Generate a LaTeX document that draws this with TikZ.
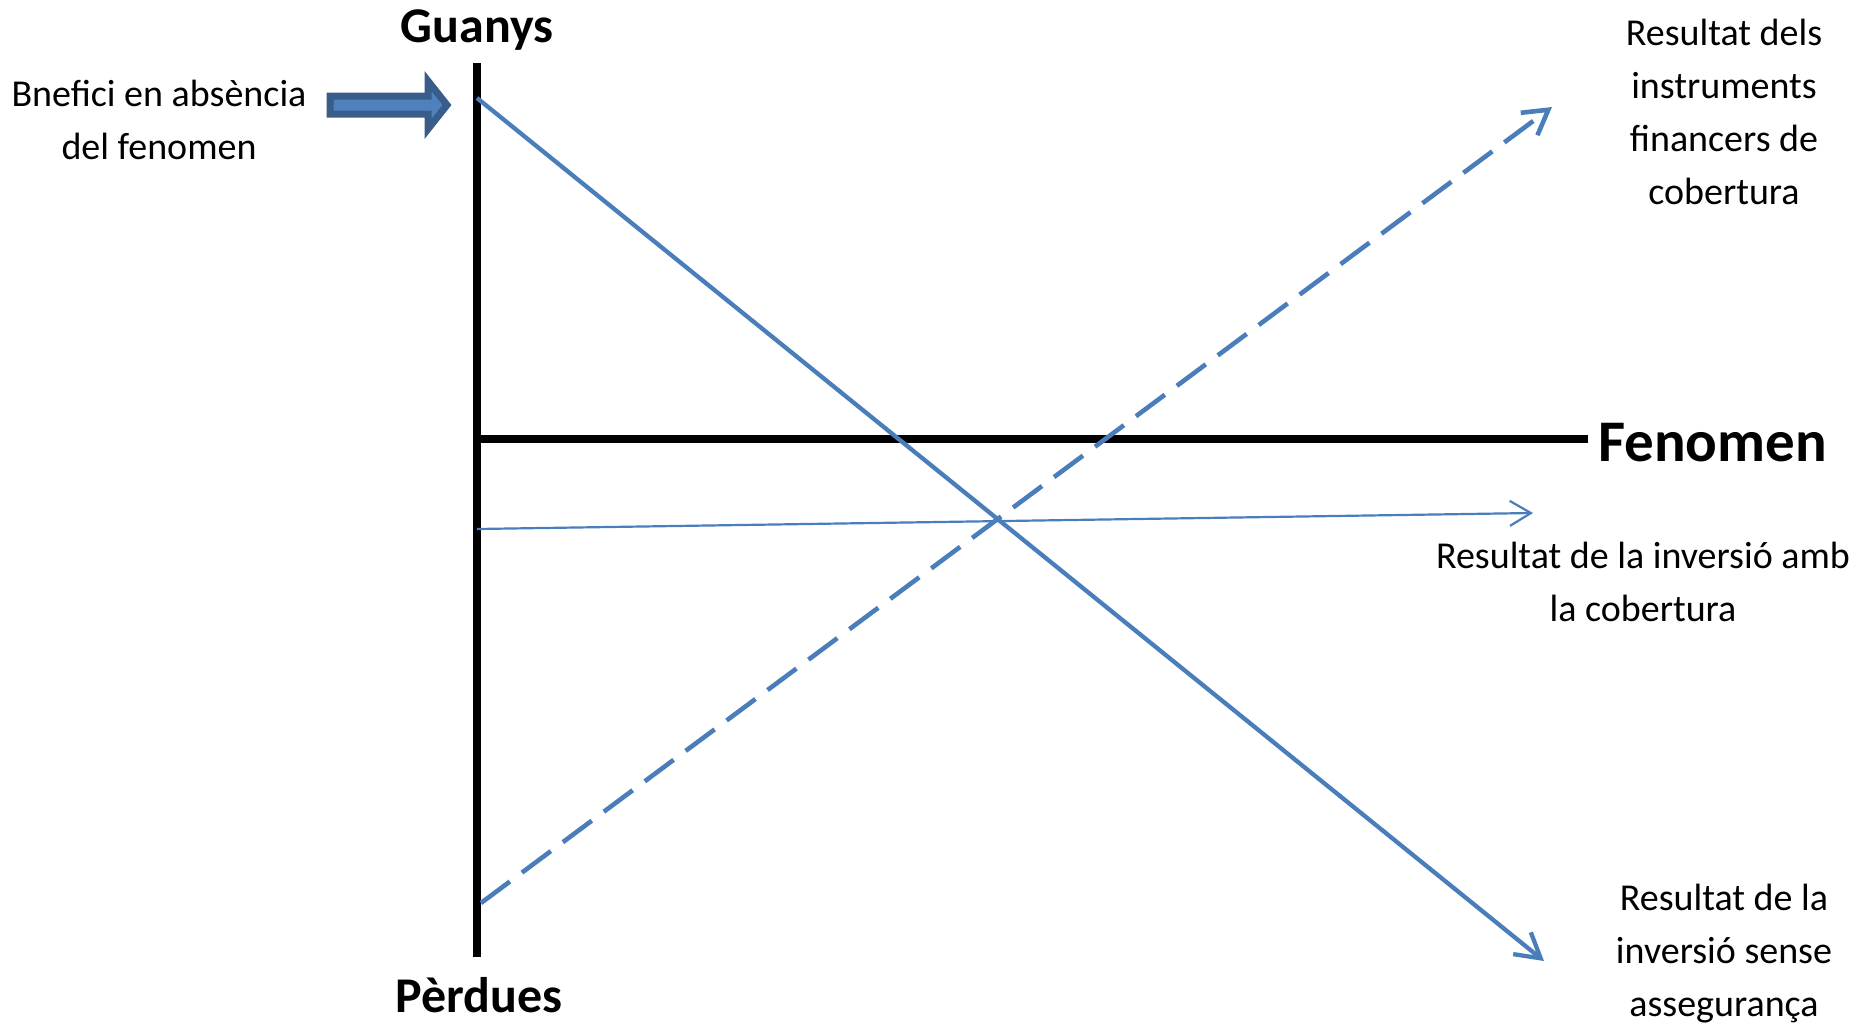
\documentclass[tikz,border=0pt]{standalone}
\usepackage{fontspec}
\setmainfont{Carlito}
\usetikzlibrary{arrows.meta}
\definecolor{lineblue}{HTML}{4A7EBB}
\definecolor{arrfill}{HTML}{4F81BD}
\definecolor{arrdraw}{HTML}{385D8A}
\begin{document}
\begin{tikzpicture}[x=1pt,y=-1pt,
  axisline/.style={line width=7.5pt,black},
  bluesolid/.style={line width=4.3pt,lineblue,-{Straight Barb[length=24pt,width=28pt,line width=4.3pt]}},
  bluethin/.style={line width=2.2pt,lineblue,-{Straight Barb[length=21pt,width=25pt,line width=2.2pt]}},
  bluedash/.style={line width=4.6pt,lineblue,dash pattern=on 36pt off 15pt,-{Straight Barb[length=24pt,width=28pt,line width=4.6pt]}},
  lbl/.style={font=\fontsize{38}{53}\selectfont,align=center,inner sep=0pt},
  bigl/.style={font=\fontsize{50}{60}\selectfont\bfseries,inner sep=0pt},
  hugel/.style={font=\fontsize{59}{70}\selectfont\bfseries,inner sep=0pt}]
\useasboundingbox (0,0) rectangle (1876,1031);
% axes
\coordinate (ytop) at (477,63);
\coordinate (ybot) at (477,957);
\coordinate (xl) at (477,439);
\coordinate (xr) at (1588,439);
\draw[axisline] (ytop) -- (ybot);
\draw[axisline] (xl) -- (xr);
% axis labels
\node[bigl] (guanys) at (477,30) {Guanys};
\node[bigl] (perdues) at (479,995) {Pèrdues};
\node[hugel,anchor=west] (fenomen) at (1598,443) {Fenomen};
% lines
\coordinate (s0) at (477,98);
\coordinate (s1) at (1544,961);
\draw[bluesolid] (s0) -- (s1);
\coordinate (d0) at (481,903);
\coordinate (d1) at (1552,107);
\draw[bluedash] (d0) -- (d1);
\coordinate (t0) at (477,529);
\coordinate (t1) at (1533,513);
\draw[bluethin] (t0) -- (t1);
% labels
\node[lbl] (bnef) at (159,120) {Bnefici en absència\\del fenomen};
\node[lbl] (instr) at (1724,112) {Resultat dels\\instruments\\financers de\\cobertura};
\node[lbl] (amb) at (1643,582) {Resultat de la inversió amb\\la cobertura};
\node[lbl] (sense) at (1724,954) {Resultat de la\\inversió sense\\assegurança};
% block arrow
\draw[line width=7pt,arrdraw,fill=arrfill,line join=miter]
  (330,96) -- (428,96) -- (428,81) -- (447,105) -- (428,129) -- (428,114) -- (330,114) -- cycle;
\end{tikzpicture}
\end{document}
